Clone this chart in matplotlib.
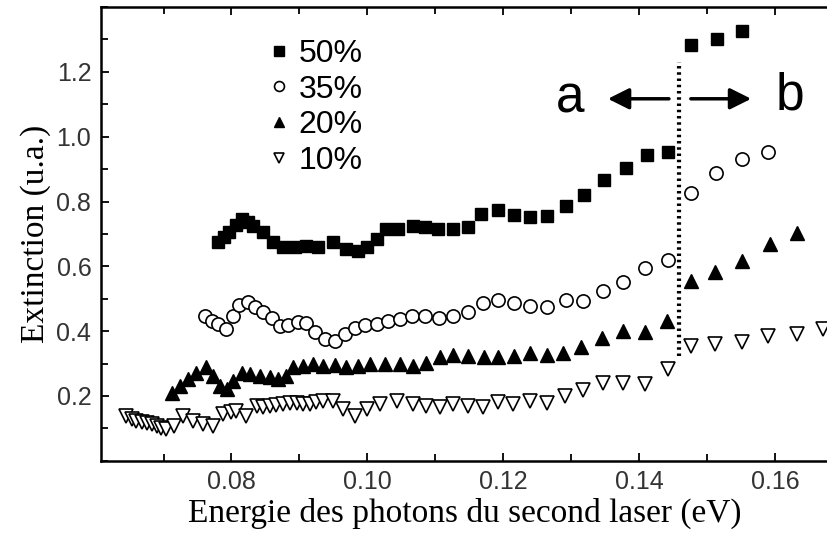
import numpy as np
import matplotlib
matplotlib.use('Agg')
import matplotlib.pyplot as plt
from matplotlib.ticker import MultipleLocator

# 50 % (carres pleins)
x50 = [0.0780, 0.0789, 0.0797, 0.0806, 0.0815, 0.0824, 0.0832, 0.0847, 0.0861, 0.0876,
       0.0893, 0.0910, 0.0928, 0.0950, 0.0969, 0.0986, 0.0999, 0.1014, 0.1028, 0.1045,
       0.1067, 0.1085, 0.1104, 0.1126, 0.1148, 0.1168, 0.1193, 0.1216, 0.1239, 0.1265,
       0.1292, 0.1319, 0.1348, 0.1380, 0.1411, 0.1443, 0.1476, 0.1514, 0.1552]
y50 = [0.674, 0.690, 0.706, 0.728, 0.746, 0.738, 0.725, 0.705, 0.674, 0.659,
       0.659, 0.664, 0.659, 0.674, 0.653, 0.648, 0.659, 0.684, 0.715, 0.715,
       0.725, 0.722, 0.715, 0.715, 0.720, 0.762, 0.775, 0.759, 0.751, 0.755,
       0.787, 0.820, 0.867, 0.903, 0.942, 0.952, 1.282, 1.303, 1.326]

# 35 % (cercles vides)
x35 = [0.0761, 0.0771, 0.0780, 0.0792, 0.0802, 0.0811, 0.0824, 0.0834, 0.0847, 0.0859,
       0.0871, 0.0883, 0.0898, 0.0910, 0.0923, 0.0937, 0.0952, 0.0967, 0.0982, 0.0996,
       0.1014, 0.1031, 0.1048, 0.1065, 0.1085, 0.1105, 0.1126, 0.1148, 0.1170, 0.1192,
       0.1216, 0.1239, 0.1265, 0.1292, 0.1318, 0.1347, 0.1377, 0.1409, 0.1443, 0.1477,
       0.1513, 0.1551, 0.1590]
y35 = [0.447, 0.432, 0.422, 0.408, 0.447, 0.480, 0.489, 0.473, 0.458, 0.442,
       0.416, 0.420, 0.429, 0.425, 0.396, 0.375, 0.370, 0.391, 0.411, 0.419,
       0.422, 0.432, 0.439, 0.447, 0.447, 0.442, 0.447, 0.460, 0.486, 0.496,
       0.487, 0.478, 0.475, 0.497, 0.492, 0.525, 0.551, 0.594, 0.620, 0.826,
       0.888, 0.932, 0.952]

# 20 % (triangles pleins)
x20 = [0.0712, 0.0724, 0.0736, 0.0748, 0.0762, 0.0773, 0.0783, 0.0793, 0.0802, 0.0815,
       0.0827, 0.0842, 0.0856, 0.0869, 0.0880, 0.0891, 0.0905, 0.0920, 0.0935, 0.0952,
       0.0969, 0.0986, 0.1004, 0.1026, 0.1048, 0.1067, 0.1087, 0.1107, 0.1126, 0.1148,
       0.1171, 0.1193, 0.1216, 0.1239, 0.1264, 0.1288, 0.1315, 0.1345, 0.1376, 0.1409,
       0.1441, 0.1477, 0.1512, 0.1551, 0.1592, 0.1632]
y20 = [0.210, 0.231, 0.252, 0.272, 0.290, 0.262, 0.231, 0.221, 0.246, 0.272,
       0.267, 0.262, 0.257, 0.252, 0.262, 0.288, 0.292, 0.298, 0.292, 0.295,
       0.288, 0.292, 0.298, 0.300, 0.300, 0.293, 0.303, 0.319, 0.326, 0.322,
       0.319, 0.319, 0.324, 0.332, 0.326, 0.334, 0.351, 0.380, 0.401, 0.398,
       0.432, 0.555, 0.581, 0.617, 0.669, 0.702]

# 10 % (triangles vides pointe en bas)
x10 = [0.0645, 0.0653, 0.0660, 0.0668, 0.0675, 0.0683, 0.0690, 0.0697, 0.0704, 0.0716,
       0.0729, 0.0743, 0.0758, 0.0773, 0.0788, 0.0800, 0.0807, 0.0822, 0.0837, 0.0846,
       0.0856, 0.0866, 0.0876, 0.0886, 0.0896, 0.0906, 0.0915, 0.0925, 0.0935, 0.0950,
       0.0964, 0.0982, 0.0999, 0.1018, 0.1043, 0.1067, 0.1087, 0.1107, 0.1126, 0.1148,
       0.1170, 0.1193, 0.1215, 0.1239, 0.1264, 0.1291, 0.1318, 0.1347, 0.1377, 0.1409,
       0.1443, 0.1477, 0.1512, 0.1551, 0.1590, 0.1632, 0.1671]
y10 = [0.138, 0.130, 0.123, 0.120, 0.118, 0.112, 0.107, 0.102, 0.097, 0.107,
       0.138, 0.123, 0.112, 0.107, 0.143, 0.150, 0.154, 0.138, 0.169, 0.165,
       0.169, 0.172, 0.174, 0.178, 0.179, 0.176, 0.174, 0.180, 0.185, 0.185,
       0.159, 0.138, 0.159, 0.174, 0.185, 0.174, 0.169, 0.165, 0.174, 0.169,
       0.167, 0.181, 0.174, 0.185, 0.179, 0.200, 0.219, 0.241, 0.241, 0.236,
       0.283, 0.355, 0.360, 0.365, 0.384, 0.390, 0.406]

x_limite = 0.1459

sans = ['Liberation Sans', 'DejaVu Sans']
serif = ['Liberation Serif', 'DejaVu Serif']

fig = plt.figure(figsize=(8.28, 5.44), dpi=100)
ax = fig.add_axes([0.122, 0.153, 0.878, 0.834])

ax.plot(x50, y50, 's', color='black', ms=9, label='50%', clip_on=False)
ax.plot(x35, y35, 'o', mfc='white', mec='black', mew=1.2, ms=9.5, label='35%', clip_on=False)
ax.plot(x20, y20, '^', color='black', ms=10, label='20%', clip_on=False)
ax.plot(x10, y10, 'v', mfc='white', mec='black', mew=1.2, ms=10, label='10%', clip_on=False)

# ligne pointillee de separation et fleches
ax.plot([x_limite, x_limite], [0.324, 1.23], color='black', lw=3, ls=(0, (0.6, 0.9)))
ax.annotate('', xy=(0.1350, 1.117), xytext=(0.1448, 1.117),
            arrowprops=dict(arrowstyle='-|>', color='black', lw=2.5, mutation_scale=32))
ax.annotate('', xy=(0.1569, 1.117), xytext=(0.1472, 1.117),
            arrowprops=dict(arrowstyle='-|>', color='black', lw=2.5, mutation_scale=32))
ax.text(0.1298, 1.117, 'a', fontsize=37, family=sans, ha='center', va='center')
ax.text(0.1622, 1.125, 'b', fontsize=37, family=sans, ha='center', va='center')

ax.set_xlim(0.0608, 0.1678)
ax.set_ylim(0.0, 1.4)
ax.xaxis.set_major_locator(MultipleLocator(0.02))
ax.xaxis.set_minor_locator(MultipleLocator(0.01))
ax.yaxis.set_major_locator(MultipleLocator(0.2))
ax.yaxis.set_minor_locator(MultipleLocator(0.1))
ax.set_xticks([0.08, 0.10, 0.12, 0.14, 0.16])
ax.set_xticklabels(['0.08', '0.10', '0.12', '0.14', '0.16'])
ax.set_yticks([0.2, 0.4, 0.6, 0.8, 1.0, 1.2])
ax.set_yticklabels(['0.2', '0.4', '0.6', '0.8', '1.0', '1.2'])

ax.spines['right'].set_visible(False)
for s in ['left', 'bottom', 'top']:
    ax.spines[s].set_linewidth(1.8)
ax.tick_params(which='both', direction='in', top=True, right=False, width=1.3,
               labelsize=18, labelcolor='#333333', pad=7)
ax.tick_params(which='major', length=6)
ax.tick_params(which='minor', length=5)
for lab in ax.get_xticklabels() + ax.get_yticklabels():
    lab.set_family(sans)

ax.set_xlabel('Energie des photons du second laser (eV)', fontsize=24, family=serif, labelpad=2)
ax.set_ylabel('Extinction (u.a.)', fontsize=24, family=serif, labelpad=4)

ax.legend(loc='upper left', bbox_to_anchor=(0.232, 0.93), frameon=False,
          prop={'family': sans, 'size': 23}, handlelength=0.6, handletextpad=0.3,
          labelspacing=0.18, borderpad=0, borderaxespad=0, markerscale=0.75)

plt.savefig('out.png', dpi=100)
